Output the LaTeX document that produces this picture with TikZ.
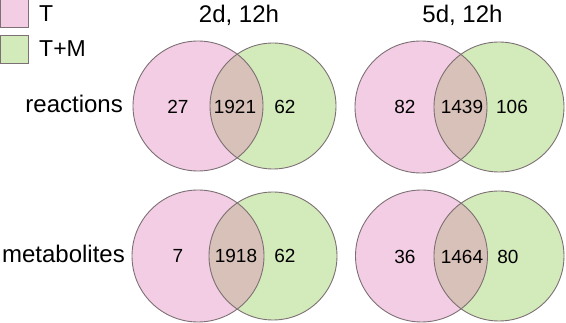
\documentclass[tikz,border=0pt]{standalone}
\usepackage{fontspec}
\setmainfont{Liberation Sans}
\definecolor{pinkf}{RGB}{242,205,228}
\definecolor{greenf}{RGB}{211,234,186}
\definecolor{overf}{RGB}{216,193,184}
\definecolor{edge}{RGB}{125,112,116}
\tikzset{
  lbl/.style={font=\fontsize{24}{28}\selectfont, text height=17.2pt, text depth=0pt, inner sep=0pt},
  leg/.style={font=\fontsize{23}{26}\selectfont, text height=16.5pt, text depth=0pt, inner sep=0pt},
  num/.style={font=\fontsize{19}{22}\selectfont, text height=13.6pt, text depth=0pt, inner sep=0pt},
  legbox/.style={draw=edge, line width=1pt, minimum width=28pt, minimum height=28pt, inner sep=0pt},
  ring/.style={draw=edge, line width=0.9pt}
}
\newcommand{\venn}[5]{% #1 px, #2 gx, #3 y, #4 pink r, #5 green r
  \fill[pinkf] (#1,#3) circle[radius=#4];
  \fill[greenf] (#2,#3) circle[radius=#5];
  \begin{scope}
    \clip (#1,#3) circle[radius=#4];
    \fill[overf] (#2,#3) circle[radius=#5];
  \end{scope}
  \draw[ring] (#1,#3) circle[radius=#4];
  \draw[ring] (#2,#3) circle[radius=#5];
}
\begin{document}
\begin{tikzpicture}[x=1pt,y=-1pt]
\useasboundingbox (0,0) rectangle (566,323);
% legend
\node[legbox, fill=pinkf] (lb1) at (14.5,14) {};
\node[legbox, fill=greenf] (lb2) at (14.5,49.5) {};
\node[leg, anchor=west] (lt1) at (39,13) {T};
\node[leg, anchor=west] (lt2) at (39,48) {T+M};
% titles
\node[lbl] (t1) at (239,13.5) {2d, 12h};
\node[lbl] (t2) at (462.5,13.5) {5d, 12h};
% row labels
\node[lbl, anchor=east] (r1) at (123,104) {reactions};
\node[lbl, anchor=east] (r2) at (125,254) {metabolites};
% venns
\venn{198}{273}{106}{65}{63}
\venn{421}{499}{107}{66}{65}
\venn{198}{273}{256}{66}{64}
\venn{421.5}{499}{256}{66}{65}
% numbers
\node[num] (a1) at (178,107) {27};
\node[num] (a2) at (235,107) {1921};
\node[num] (a3) at (285,107) {62};
\node[num] (b1) at (405,107) {82};
\node[num] (b2) at (462,107) {1439};
\node[num] (b3) at (512,107) {106};
\node[num] (c1) at (178,256) {7};
\node[num] (c2) at (236,256) {1918};
\node[num] (c3) at (285,256) {62};
\node[num] (d1) at (405,257) {36};
\node[num] (d2) at (462,257) {1464};
\node[num] (d3) at (508,257) {80};
\end{tikzpicture}
\end{document}
